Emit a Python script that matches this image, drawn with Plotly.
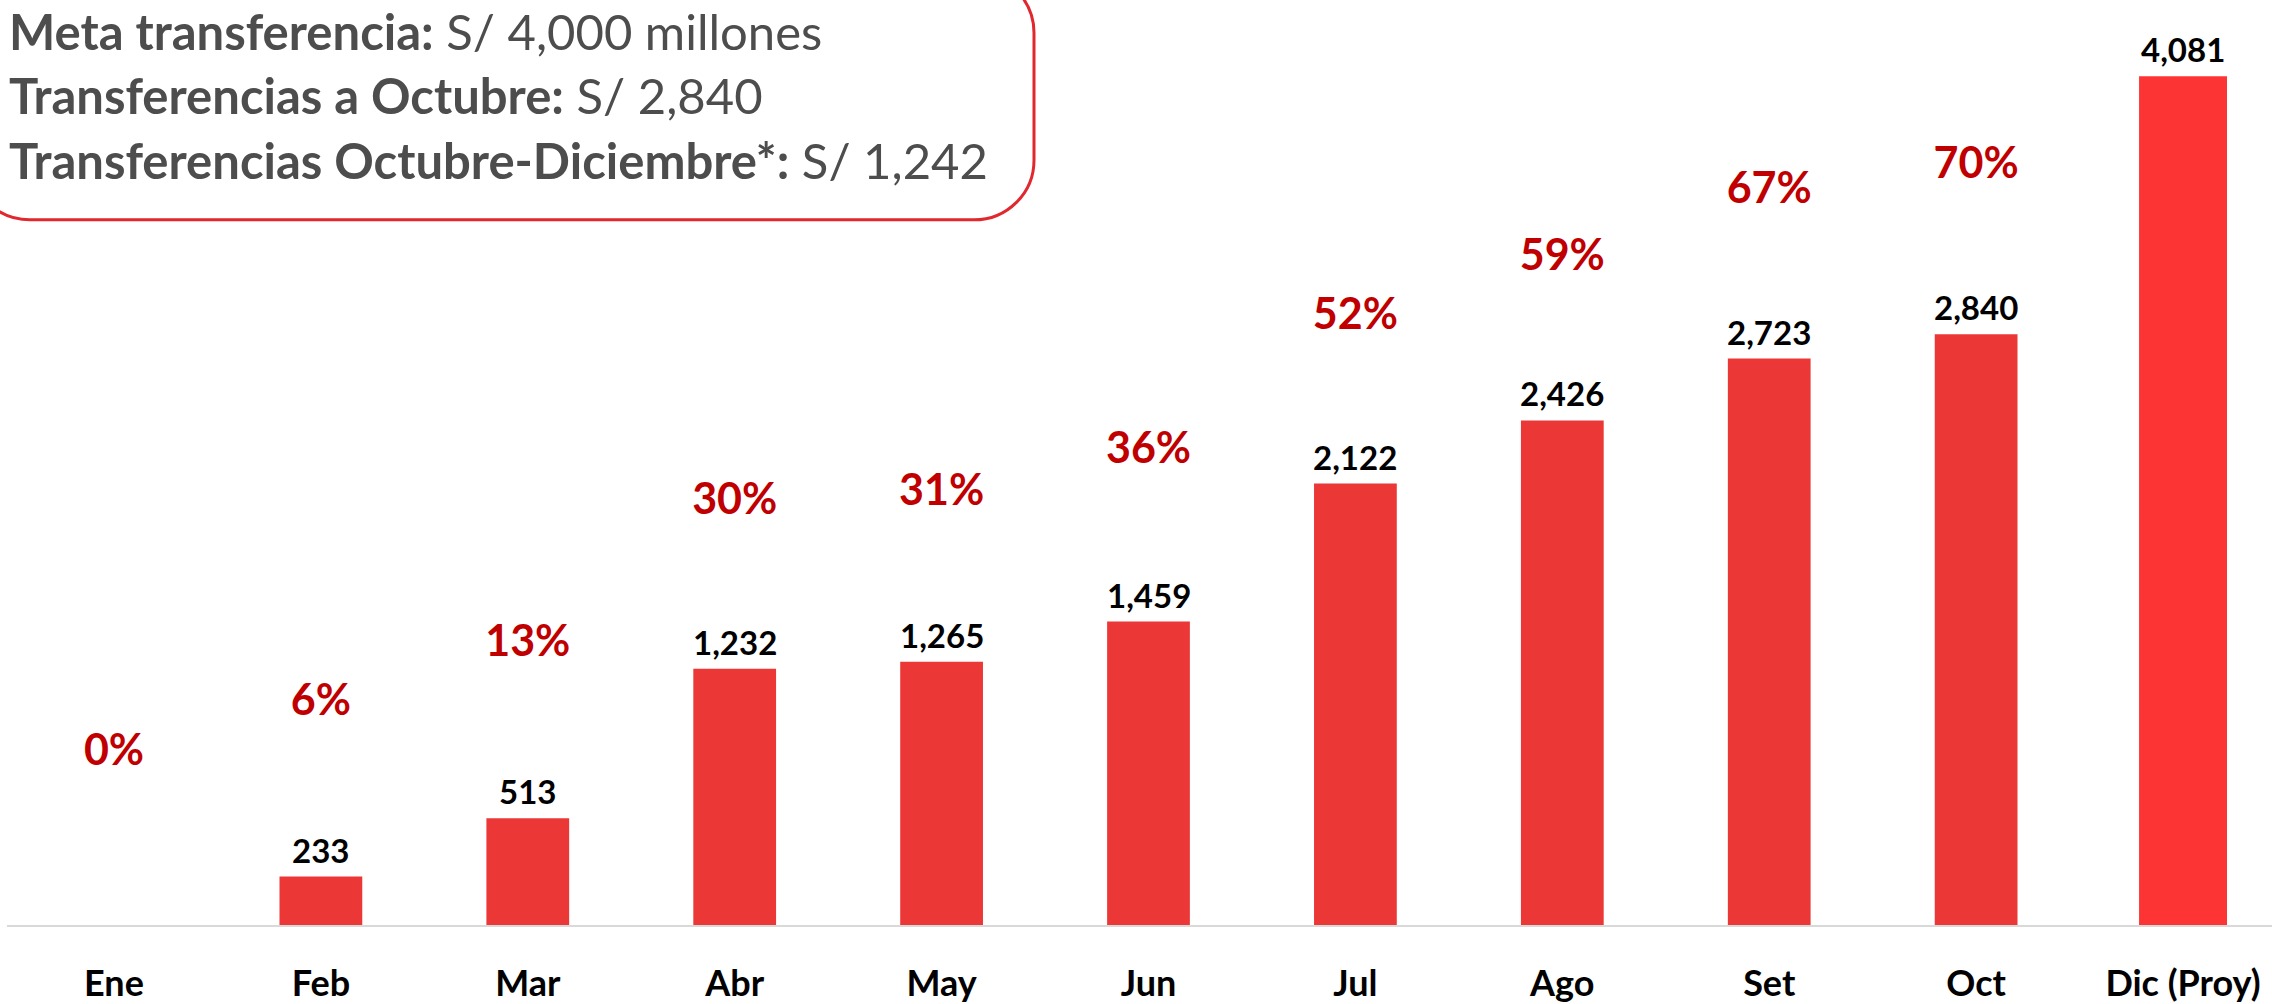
import plotly.graph_objs as go

# datos (millones de S/)
meses = ["Ene", "Feb", "Mar", "Abr", "May", "Jun", "Jul", "Ago", "Set", "Oct", "Dic (Proy)"]
transferencias = [0, 233, 513, 1232, 1265, 1459, 2122, 2426, 2723, 2840, 4081]
avance_pct = [0, 6, 13, 30, 31, 36, 52, 59, 67, 70]

recuadro_titulos = ["Meta transferencia:", "Transferencias a Octubre:", "Transferencias Octubre-Diciembre*:"]
recuadro_valores = ["S/ 4,000 millones", "S/ 2,840", "S/ 1,242"]

W, H = 2272, 1004
ML, MB = 7, 74
PW, PH = W - ML, H - MB

ROJO = "#EC3737"
ROJO_PROY = "#FC3434"
ROJO_PCT = "#C00000"
GRIS_TXT = "#4D4D4D"
FUENTE = "Lato"


def px_to_paper(x, y):
    return (x - ML) / PW, (PH - y) / PH


def rounded_box(x0, y0, x1, y1, r):
    # rectangulo redondeado en pixeles -> path en coords paper
    k = 0.5523 * r
    pts = [
        ("M", [(x0 + r, y0)]),
        ("L", [(x1 - r, y0)]),
        ("C", [(x1 - r + k, y0), (x1, y0 + r - k), (x1, y0 + r)]),
        ("L", [(x1, y1 - r)]),
        ("C", [(x1, y1 - r + k), (x1 - r + k, y1), (x1 - r, y1)]),
        ("L", [(x0 + r, y1)]),
        ("C", [(x0 + r - k, y1), (x0, y1 - r + k), (x0, y1 - r)]),
        ("L", [(x0, y0 + r)]),
        ("C", [(x0, y0 + r - k), (x0 + r - k, y0), (x0 + r, y0)]),
    ]
    path = ""
    for cmd, coords in pts:
        path += cmd + " " + " ".join(
            "{:.5f},{:.5f}".format(*px_to_paper(px, py)) for px, py in coords
        ) + " "
    return path + "Z"


colores = [ROJO] * (len(meses) - 1) + [ROJO_PROY]
anchos = [0.40] * (len(meses) - 1) + [0.425]

fig = go.Figure()
fig.add_trace(
    go.Bar(
        x=meses,
        y=transferencias,
        marker=dict(color=colores, line=dict(width=0)),
        width=anchos,
        hoverinfo="x+y",
    )
)

fig.add_trace(
    go.Scatter(
        x=meses[: len(avance_pct)],
        y=avance_pct,
        mode="text",
        text=[f"{p}%" for p in avance_pct],
        textposition="middle center",
        textfont=dict(family=FUENTE, size=43, color=ROJO_PCT, weight="bold"),
        yaxis="y2",
        hoverinfo="skip",
    )
)

anotaciones = []
for mes, valor in zip(meses, transferencias):
    if valor == 0:
        continue
    anotaciones.append(
        dict(
            x=mes,
            y=valor,
            xref="x",
            yref="y",
            text=f"<b>{valor:,}</b>",
            showarrow=False,
            yanchor="bottom",
            yshift=5,
            font=dict(family=FUENTE, size=33, color="black"),
        )
    )

for i, (titulo, valor) in enumerate(zip(recuadro_titulos, recuadro_valores)):
    _, yp = px_to_paper(0, 31 + 65 * i)
    anotaciones.append(
        dict(
            x=0,
            y=yp,
            xref="paper",
            yref="paper",
            text=f"<b>{titulo}</b> {valor}",
            showarrow=False,
            xanchor="left",
            yanchor="middle",
            font=dict(family=FUENTE, size=49, color=GRIS_TXT),
        )
    )

fig.update_layout(
    width=W,
    height=H,
    margin=dict(l=ML, r=0, t=0, b=MB),
    plot_bgcolor="white",
    paper_bgcolor="white",
    showlegend=False,
    bargap=0.6,
    annotations=anotaciones,
    shapes=[
        dict(
            type="path",
            path=rounded_box(-30, -27, 1034, 221, 60),
            xref="paper",
            yref="paper",
            line=dict(color="#E0282E", width=3),
            fillcolor="rgba(0,0,0,0)",
            layer="above",
        )
    ],
    xaxis=dict(
        type="category",
        range=[-0.517, 10.43],
        showline=True,
        linecolor="#D9D9D9",
        linewidth=2,
        showgrid=False,
        ticks="",
        ticklabelstandoff=26,
        tickfont=dict(family=FUENTE, size=36, color="black", weight="bold"),
    ),
    yaxis=dict(
        range=[0, 4447],
        showgrid=False,
        zeroline=False,
        showticklabels=False,
        showline=False,
    ),
    yaxis2=dict(
        range=[-20.3, 89.9],
        overlaying="y",
        side="right",
        showgrid=False,
        zeroline=False,
        showticklabels=False,
        showline=False,
    ),
)

# quitar el margen por defecto del body para que el grafico ocupe toda la ventana
fig.write_html(
    "out.html",
    config={"displayModeBar": False},
    post_script="document.body.style.margin='0';",
)
